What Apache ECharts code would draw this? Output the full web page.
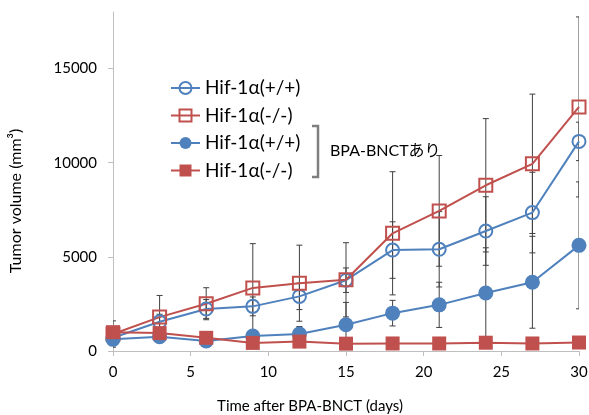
<!DOCTYPE html>
<html>
<head>
<meta charset="utf-8">
<script src="https://cdn.jsdelivr.net/npm/echarts@6/dist/echarts.min.js"></script>
<style>
  html, body { margin: 0; padding: 0; background: #fff; }
  #main { width: 589px; height: 415px; }
</style>
</head>
<body>
<div id="main"></div>
<script>
var days = [0, 3, 6, 9, 12, 15, 18, 21, 24, 27, 30];
var yTicks = [0, 5000, 10000, 15000];
var xTicks = [0, 5, 10, 15, 20, 25, 30];

// 未処理
var wtVol = [700, 1550, 2230, 2370, 2900, 3760, 5360, 5400, 6370, 7350, 11130];
var wtSd  = [300, 400, 500, 500, 700, 650, 1500, 2000, 1820, 2140, 1020];
var koVol = [900, 1800, 2510, 3350, 3600, 3780, 6250, 7440, 8800, 9940, 12960];
var koSd  = [700, 1150, 850, 2350, 2020, 1970, 3270, 2940, 3540, 3700, 4780];
// BPA-BNCTあり
var wtBVol = [620, 760, 530, 800, 900, 1390, 2010, 2450, 3080, 3650, 5610];
var wtBSd  = [200, 300, 200, 300, 400, 1190, 680, 1200, 2400, 2440, 3370];
var koBVol = [1000, 950, 700, 430, 500, 390, 400, 400, 440, 400, 450];
var koBSd  = [100, 200, 150, 100, 100, 100, 100, 100, 150, 100, 100];

var labels = {wt: 'Hif-1α(+/+)', ko: 'Hif-1α(-/-)', wtB: 'Hif-1α(+/+)', koB: 'Hif-1α(-/-)'};

var BLUE = '#4f81bd', RED = '#c0504d';
var FONT = 'Lato, "Noto Sans CJK JP", sans-serif';

function pairs(vals){ return days.map(function(d, i){ return [d, vals[i]]; }); }
function errData(vals, sd){ return days.map(function(d, i){ return [d, vals[i], sd[i]]; }); }

function renderErr(params, api) {
  var x = api.value(0), y = api.value(1), e = api.value(2);
  var top = api.coord([x, y + e]);
  var lowV = y - e;
  var bot = api.coord([x, Math.max(0, lowV)]);
  var st = {stroke: '#404040', lineWidth: 1};
  var kids = [
    {type: 'line', shape: {x1: top[0], y1: top[1], x2: bot[0], y2: bot[1]}, style: st},
    {type: 'line', shape: {x1: top[0] - 3, y1: top[1], x2: top[0] + 3, y2: top[1]}, style: st}
  ];
  if (lowV > 0) {
    kids.push({type: 'line', shape: {x1: bot[0] - 3, y1: bot[1], x2: bot[0] + 3, y2: bot[1]}, style: st});
  }
  return {type: 'group', children: kids};
}

function errSeries(vals, sd) {
  return {
    type: 'custom', renderItem: renderErr, data: errData(vals, sd),
    encode: {x: 0, y: 1}, z: 1, silent: true, clip: true
  };
}

function lineSeries(id, vals, color, symbol, size, filled) {
  return {
    name: id, type: 'line', data: pairs(vals), z: 3,
    symbol: symbol, symbolSize: size, showAllSymbol: true,
    lineStyle: {color: color, width: 2},
    itemStyle: filled
      ? {color: color, borderColor: color, borderWidth: 0}
      : {color: 'rgba(255,255,255,0)', borderColor: color, borderWidth: 2}
  };
}

var chart = echarts.init(document.getElementById('main'), null, {renderer: 'canvas'});

var option = {
  backgroundColor: '#fff',
  animation: false,
  textStyle: {fontFamily: FONT},
  grid: {left: 113, right: 10, top: 12, bottom: 64, outerBoundsMode: 'none'},
  xAxis: {
    type: 'value', min: 0, max: 30, interval: 5,
    axisLine: {lineStyle: {color: '#bfbfbf', width: 1}},
    axisTick: {show: true, length: 5, customValues: xTicks, lineStyle: {color: '#bfbfbf'}},
    axisLabel: {customValues: xTicks, color: '#000', fontSize: 15, margin: 14, fontFamily: FONT},
    splitLine: {show: false}
  },
  yAxis: {
    type: 'value', min: 0, max: 18000, interval: 5000,
    axisLine: {show: true, lineStyle: {color: '#bfbfbf', width: 1}},
    axisTick: {show: true, length: 5, customValues: yTicks, lineStyle: {color: '#bfbfbf'}},
    axisLabel: {customValues: yTicks, color: '#000', fontSize: 15, margin: 16, fontFamily: FONT,
      formatter: function (v) { return String(v); }},
    splitLine: {show: false}
  },
  legend: {
    orient: 'vertical', left: 165, top: 73,
    itemWidth: 29, itemHeight: 15, itemGap: 7.5, itemTextGap: 7,
    data: ['wt', 'ko', 'wtB', 'koB'],
    formatter: function (n) { return labels[n]; },
    textStyle: {fontSize: 19, color: '#000', lineHeight: 20, fontFamily: FONT}
  },
  graphic: [
    {type: 'polyline', shape: {points: [[312, 126], [318, 126], [318, 177], [312, 177]]},
     style: {stroke: '#7f7f7f', lineWidth: 2.5, fill: null}},
    {type: 'text', left: 330, top: 143,
     style: {text: 'BPA-BNCTあり', font: '16px ' + FONT, fill: '#000'}},
    {type: 'text', x: 16, y: 201, rotation: Math.PI / 2,
     style: {text: 'Tumor volume (mm³)', font: '16px ' + FONT, fill: '#000', align: 'center', verticalAlign: 'middle'}},
    {type: 'text', x: 310, y: 406,
     style: {text: 'Time after BPA-BNCT (days)', font: '15px ' + FONT, fill: '#000', align: 'center', verticalAlign: 'middle'}}
  ],
  series: [
    errSeries(wtVol, wtSd),
    errSeries(koVol, koSd),
    errSeries(wtBVol, wtBSd),
    errSeries(koBVol, koBSd),
    lineSeries('wt', wtVol, BLUE, 'circle', 13, false),
    lineSeries('ko', koVol, RED, 'rect', 13, false),
    lineSeries('wtB', wtBVol, BLUE, 'circle', 15, true),
    lineSeries('koB', koBVol, RED, 'rect', 14, true)
  ]
};

chart.setOption(option);
</script>
</body>
</html>
